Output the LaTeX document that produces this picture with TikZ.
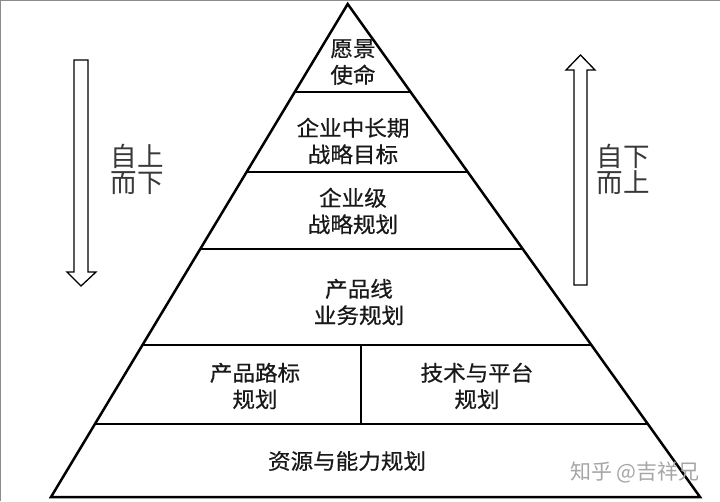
\documentclass[tikz,border=0pt]{standalone}
\usepackage{fontspec}
\newfontfamily\cjk{Noto Sans CJK SC}
\newfontfamily\cjkwide[FakeStretch=1.05,FakeBold=0.6]{Noto Sans CJK SC}
\usetikzlibrary{calc}

\begin{document}
\begin{tikzpicture}[x=1pt,y=-1pt,
  layer/.style={line width=2.5pt,black},
  lbl/.style={font=\cjkwide\fontsize{21.5}{26.5}\selectfont,align=center,text=black!90,inner sep=0pt},
  side/.style={font=\cjk\fontsize{26.5}{26}\selectfont,align=center,text=black!78,inner sep=0pt},
  flow/.style={line width=1.3pt,fill=white,line join=miter}]
\useasboundingbox (0,0) rectangle (720,501);
\draw[black!45,line width=2pt] (0,501) -- (0,0) -- (720,0);
% pyramid outline
\coordinate (top) at (347.7,4);
\coordinate (bl) at (51,497);
\coordinate (br) at (700,497);
\draw[layer,line join=miter] (top) -- (bl) -- (br) -- cycle;
% layer lines
\foreach \t/\n in {0.1785/a,0.3408/b,0.4970/c,0.6917/d,0.8519/e}{
  \coordinate (l\n) at ($(top)!\t!(bl)$);
  \coordinate (r\n) at ($(top)!\t!(br)$);
  \draw[layer] (l\n) -- (r\n);
}
\draw[layer] (361,345) -- (361,424);
% labels
\node[lbl] (vision) at (353,62) {愿景\\使命};
\node[lbl] (goal) at (353,141) {企业中长期\\战略目标};
\node[lbl] (corp) at (353,211) {企业级\\战略规划};
\node[lbl] (line) at (359,302) {产品线\\业务规划};
\node[lbl] (road) at (255,386) {产品路标\\规划};
\node[lbl] (tech) at (477,386) {技术与平台\\规划};
\node[lbl] (res) at (347,461) {资源与能力规划};
% side arrows
\draw[flow] (74,60) -- (88,60) -- (88,272) -- (96,272) -- (81,286) -- (67,272) -- (74,272) -- cycle;
\draw[flow] (574,285) -- (587,285) -- (587,70) -- (595,70) -- (580.5,55) -- (566,70) -- (574,70) -- cycle;
\node[side] (down) at (137,169) {自上\\而下};
\node[side] (up) at (623,169) {自下\\而上};
% watermark
\node[font=\cjk\fontsize{21}{21}\selectfont,text=black!35,inner sep=0pt] (mark) at (635,472) {知乎 @吉祥兄};
\end{tikzpicture}
\end{document}
